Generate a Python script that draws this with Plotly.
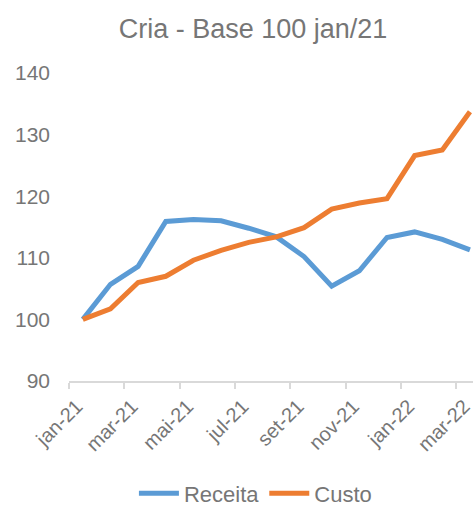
import plotly.graph_objects as go

months = ["jan-21", "fev-21", "mar-21", "abr-21", "mai-21", "jun-21", "jul-21", "ago-21",
          "set-21", "out-21", "nov-21", "dez-21", "jan-22", "fev-22", "mar-22"]
receita = [100.0, 105.7, 108.6, 115.9, 116.2, 116.0, 114.8, 113.4, 110.2, 105.4, 107.9, 113.3, 114.2, 113.0, 111.3]
custo = [100.0, 101.7, 106.0, 107.0, 109.6, 111.2, 112.5, 113.4, 114.9, 117.9, 118.9, 119.6, 126.6, 127.5, 133.7]
y_ticks = [90, 100, 110, 120, 130, 140]

FONT = "Liberation Sans, Arial, sans-serif"
GREY = "#767676"

x_idx = list(range(len(months)))
label_idx = x_idx[::2]
label_txt = [months[i] for i in label_idx]
bound_idx = [i - 0.5 for i in label_idx]

fig = go.Figure()
fig.add_trace(go.Scatter(x=x_idx, y=receita, name="Receita", mode="lines",
                         line=dict(color="#5B9BD5", width=5), cliponaxis=False))
fig.add_trace(go.Scatter(x=x_idx, y=custo, name="Custo", mode="lines",
                         line=dict(color="#ED7D31", width=5), cliponaxis=False))

fig.update_layout(
    width=473, height=506,
    margin=dict(l=69, r=0, t=73, b=125, autoexpand=False),
    paper_bgcolor="white", plot_bgcolor="white",
    font=dict(family=FONT, color=GREY, size=21),
    title=dict(text="Cria - Base 100 jan/21", x=0.535, xanchor="center", xref="container",
               y=1 - 29 / 506, yanchor="middle", yref="container",
               font=dict(size=27, color=GREY, family=FONT)),
    showlegend=True,
    legend=dict(orientation="h", xref="container", yref="paper",
                x=0.54, xanchor="center", y=-0.365, yanchor="middle",
                font=dict(size=22, color=GREY), itemwidth=40,
                bgcolor="rgba(0,0,0,0)"),
    xaxis=dict(range=[-0.5, 14.11], tickmode="array", tickvals=label_idx, ticktext=label_txt,
               tickangle=-45, ticks="", showgrid=False, zeroline=False, automargin=False,
               showline=True, linecolor="#D9D9D9", linewidth=1.5, ticklabeloverflow="allow",
               ticklabelstandoff=4, ticklabelshift=-6,
               tickfont=dict(size=20, color=GREY),
               minor=dict(tickmode="array", tickvals=bound_idx, ticks="outside",
                          ticklen=6, tickcolor="#D9D9D9", tickwidth=1.5, showgrid=False)),
    yaxis=dict(range=[90, 140], tickmode="array", tickvals=y_ticks, showgrid=False,
               zeroline=False, showline=False, ticks="", ticklabelstandoff=18, automargin=False,
               tickfont=dict(size=21, color=GREY)),
)

fig.write_html("out.html", config={"displayModeBar": False},
               post_script="document.body.style.margin='0';document.body.style.overflow='hidden';")
